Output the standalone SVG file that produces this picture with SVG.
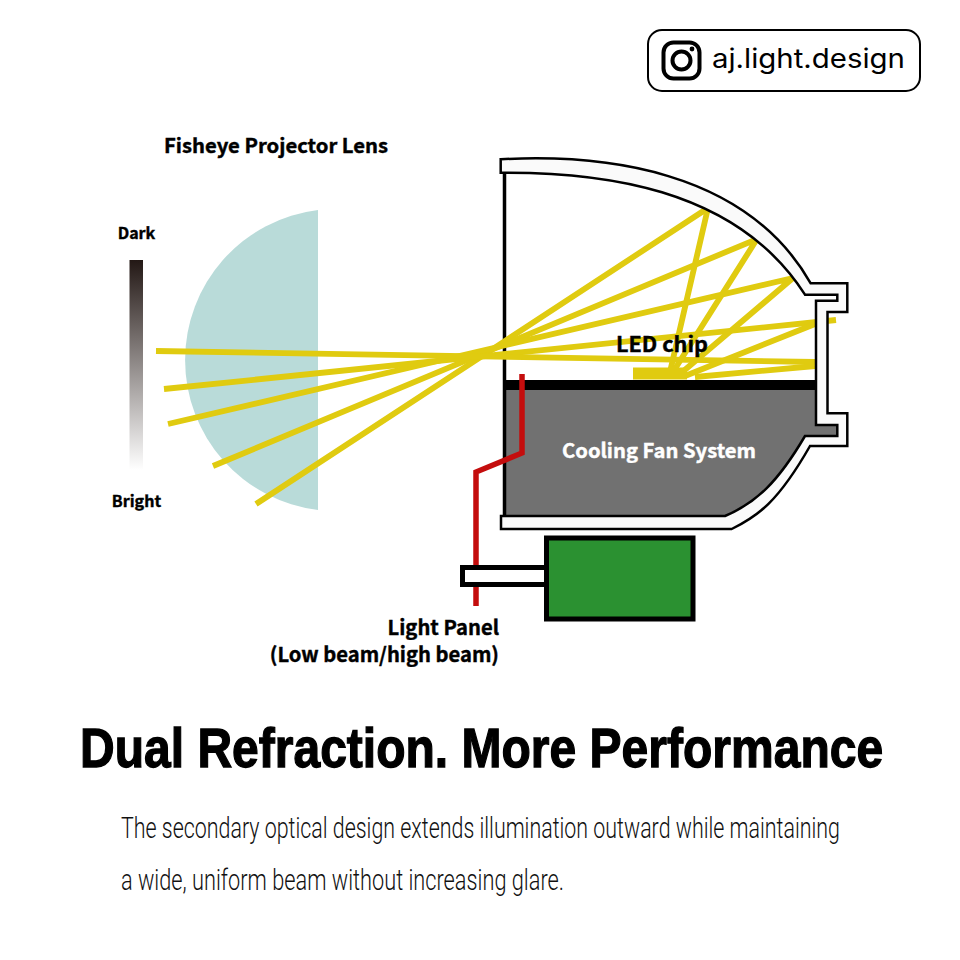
<svg xmlns="http://www.w3.org/2000/svg" width="960" height="960" viewBox="0 0 960 960">
<style>
.cjk{font-family:"Noto Sans CJK SC","Noto Sans CJK JP","Liberation Sans",sans-serif;font-weight:700;stroke:#000;stroke-width:.4}
.ray{fill:none;stroke:#e0cb10;stroke-width:5.800}
.title{font-family:"Liberation Sans",Arial,sans-serif;font-weight:700;font-size:56px;fill:#000;stroke:#000;stroke-width:1.300}
.sub{font-family:"Roboto","Liberation Sans",sans-serif;font-weight:300;font-size:29.500px;fill:#111}
</style>
<defs>
<linearGradient id="shade" x1="0" y1="0" x2="0" y2="1"><stop offset="0" stop-color="#231815"/><stop offset="1" stop-color="#231815" stop-opacity="0"/></linearGradient>
</defs>
<rect width="960" height="960" fill="#fff"/>
<g id="handle">
<rect x="648" y="30" width="272" height="61" rx="14" fill="#fff" stroke="#000" stroke-width="2"/>
<rect x="663.500" y="42.500" width="36" height="36" rx="10" fill="none" stroke="#000" stroke-width="4"/>
<circle cx="681.500" cy="60.500" r="9" fill="none" stroke="#000" stroke-width="4"/>
<circle cx="692" cy="49" r="2.400" fill="#000"/>
<text x="712" y="68" font-family="Inter,'Open Sans',sans-serif" font-size="27" fill="#000" textLength="193" lengthAdjust="spacingAndGlyphs">aj.light.design</text>
</g>
<g id="lens">
<path d="M318 210A151.100 151.100 0 0 0 318 510Z" fill="#b9dbd9"/>
</g>
<g id="shade-bar">
<rect x="129.500" y="260" width="13.500" height="210" fill="url(#shade)"/>
<text class="cjk" x="136.500" y="239" font-size="16" text-anchor="middle">Dark</text>
<text class="cjk" x="136.500" y="507" font-size="16" text-anchor="middle">Bright</text>
</g>
<text class="cjk" x="164" y="153" font-size="20" textLength="224" lengthAdjust="spacingAndGlyphs">Fisheye Projector Lens</text>
<g id="cooling">
<path d="M505 390H816V425H837.300V436H805C778 482 756 503 725 516H505Z" fill="#717171"/>
<text class="cjk" x="659" y="458" font-size="20" fill="#fff" style="stroke:#fff" text-anchor="middle" textLength="194" lengthAdjust="spacingAndGlyphs">Cooling Fan System</text>
</g>
<g id="wall">
<path d="M504.500 172V516" stroke="#000" stroke-width="3.500" fill="none"/>
<rect x="505" y="380" width="311" height="10" fill="#000"/>
</g>
<g id="connectors">
<path class="ray" d="M256 504L708 208L670 372"/>
<path class="ray" d="M213 466L757 239L673 372"/>
<path class="ray" d="M168 424L793 278L680 374"/>
<path class="ray" d="M164 389L836 320"/>
<path class="ray" d="M156 351L815 362"/>
<path class="ray" d="M815 366L695 377"/>
<path class="ray" d="M815 324L685 376"/>
<rect x="633" y="367.500" width="54" height="12" fill="#e0cb10"/>
<path d="M522 374V453L476 472V606" fill="none" stroke="#c40d0d" stroke-width="5.500"/>
</g>
<text class="cjk" x="616" y="352" font-size="21" textLength="92" lengthAdjust="spacingAndGlyphs">LED chip</text>
<g id="housing">
<path d="M500.700 159.300C600 154 745 168 810.700 283.300H847.300V312H827.500V413.300H847.300V446H810C778 502 758 516 731.700 529H501V516H725C756 503 778 482 805 436H837.300V425H816V300.700H837.300V294.700H805C735 185 595 172 500.700 172.700Z" fill="#fafafa" stroke="#000" stroke-width="2.500" stroke-linejoin="miter"/>
</g>
<g id="panel">
<rect x="462.500" y="567.500" width="84" height="17" fill="#fff" stroke="#000" stroke-width="5"/>
<rect x="546.500" y="538" width="146.500" height="81" fill="#2b9131" stroke="#000" stroke-width="5"/>
</g>
<text class="cjk" x="499" y="635" font-size="20.200" text-anchor="end">Light Panel</text>
<text class="cjk" x="499" y="662" font-size="20.200" text-anchor="end">(Low beam/high beam)</text>
<text class="title" transform="translate(80 767) scale(.776 1)" textLength="1035" lengthAdjust="spacingAndGlyphs">Dual Refraction. More Performance</text>
<text class="sub" transform="translate(121 838) scale(.69 1)" textLength="1042" lengthAdjust="spacingAndGlyphs">The secondary optical design extends illumination outward while maintaining</text>
<text class="sub" transform="translate(121 890) scale(.69 1)" textLength="642" lengthAdjust="spacingAndGlyphs">a wide, uniform beam without increasing glare.</text>
</svg>
